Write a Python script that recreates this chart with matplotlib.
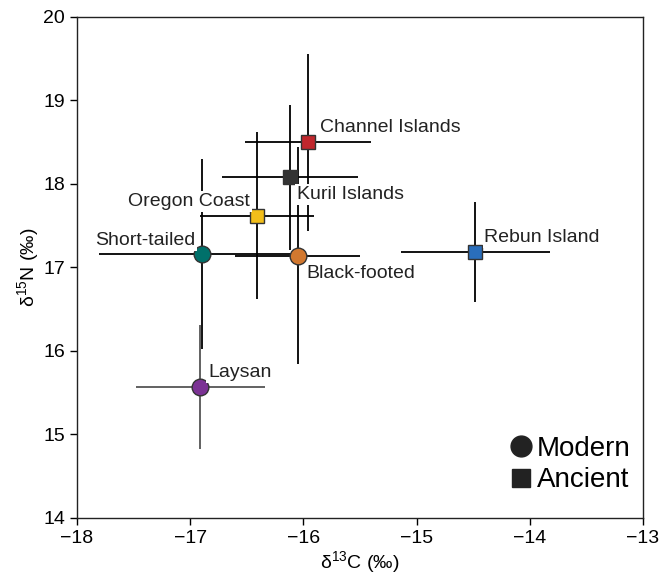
import matplotlib
matplotlib.use("Agg")
import matplotlib.pyplot as plt
from matplotlib.lines import Line2D

plt.rcParams['font.family'] = ['Liberation Sans', 'DejaVu Sans']
plt.rcParams['mathtext.fontset'] = 'custom'
plt.rcParams['mathtext.rm'] = 'Liberation Sans'
plt.rcParams['mathtext.it'] = 'Liberation Sans:italic'

# Data
names = ["Channel Islands", "Kuril Islands", "Oregon Coast", "Short-tailed",
         "Black-footed", "Laysan", "Rebun Island"]
d13C = [-15.96, -16.12, -16.41, -16.90, -16.05, -16.91, -14.48]
d15N = [18.50, 18.08, 17.62, 17.16, 17.14, 15.57, 17.19]
xerr = [0.56, 0.60, 0.50, 0.91, 0.55, 0.57, 0.66]
yerr = [1.06, 0.87, 1.00, 1.14, 1.30, 0.74, 0.60]
kind = ["Ancient", "Ancient", "Ancient", "Modern", "Modern", "Modern", "Ancient"]
colors = ["#C1272D", "#333333", "#F2BE1A", "#00706A", "#D2782F", "#7B3294", "#2A6EBB"]
xticks = [-18, -17, -16, -15, -14, -13]
yticks = [14, 15, 16, 17, 18, 19, 20]

# label offsets (pixels) and alignment
offsets = [(12, 15, 'left'), (7, -17, 'left'), (-7, 14, 'right'), (-6, 14, 'right'),
           (9, -18, 'left'), (8, 14, 'left'), (9, 14, 'left')]

fig = plt.figure(figsize=(6.72, 5.74), dpi=100)
ax = fig.add_axes([77/672, 1-518/574, (643-77)/672, (518-17)/574])

for i, n in enumerate(names):
    ecol = '#555555' if n == "Laysan" else 'black'
    ax.errorbar(d13C[i], d15N[i], xerr=xerr[i], yerr=yerr[i], fmt='none',
                ecolor=ecol, elinewidth=1.3, capsize=0, zorder=2)
for i, n in enumerate(names):
    m = 'o' if kind[i] == "Modern" else 's'
    ms = 12 if m == 'o' else 10.5
    ax.plot(d13C[i], d15N[i], marker=m, color=colors[i], ms=ms, mec='#333333',
            mew=1.0, ls='', zorder=3)
    dx, dy, ha = offsets[i]
    ax.annotate(n, (d13C[i], d15N[i]), xytext=(dx, dy), textcoords='offset pixels',
                ha=ha, va='center', fontsize=14, color='#222222', zorder=4,
                bbox=dict(boxstyle='square,pad=0.1', fc='white', ec='none'))

ax.set_xlim(-18, -13)
ax.set_ylim(14, 20)
ax.set_xticks(xticks)
ax.set_yticks(yticks)
ax.tick_params(direction='out', length=5, width=1, labelsize=14, colors='black')
ax.set_xlabel(r"δ$^{\mathrm{13}}$C (‰)", fontsize=14, labelpad=2)
ax.set_ylabel(r"δ$^{\mathrm{15}}$N (‰)", fontsize=14, labelpad=2)
for s in ax.spines.values():
    s.set_linewidth(1.0)
    s.set_color('#222222')

handles = [Line2D([], [], marker='o', color='#222222', ls='', ms=15),
           Line2D([], [], marker='s', color='#222222', ls='', ms=13)]
ax.legend(handles, ["Modern", "Ancient"], loc='lower right', frameon=False,
          fontsize=20, handletextpad=0.05, labelspacing=0.2, handlelength=1.0,
          borderaxespad=0, bbox_to_anchor=(0.997, 0.027))

fig.savefig("out.png", dpi=100)
